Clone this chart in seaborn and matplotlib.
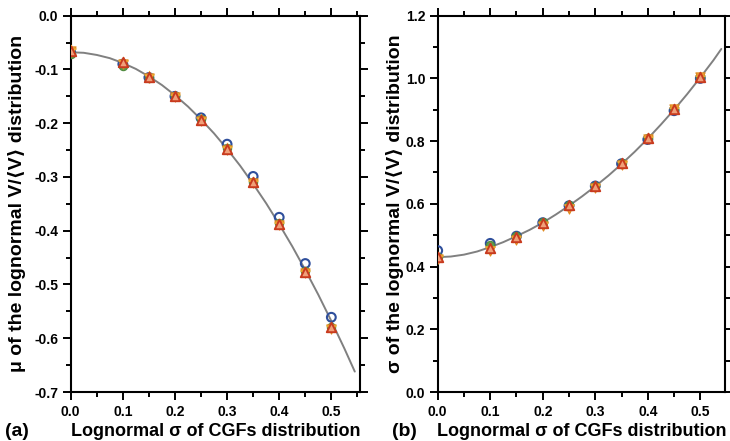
import numpy as np
import pandas as pd
import matplotlib
matplotlib.use("Agg")
import matplotlib.pyplot as plt
from matplotlib.ticker import MultipleLocator, FormatStrFormatter
import seaborn as sns

# ---- data ----
sigma_cgf = [0.0, 0.1, 0.15, 0.2, 0.25, 0.3, 0.35, 0.4, 0.45, 0.5]

# panel (a): mu of lognormal V/<V>
mu_blue = [-0.068, -0.090, -0.115, -0.150, -0.190, -0.239, -0.299, -0.375, -0.461, -0.561]
mu_green = [-0.072, -0.093, -0.116, -0.150, -0.193, -0.246, -0.309, -0.386, -0.475, -0.579]
mu_orange = [-0.066, -0.089, -0.116, -0.151, -0.195, -0.249, -0.312, -0.389, -0.478, -0.582]
mu_yellow = [-0.064, -0.087, -0.113, -0.149, -0.193, -0.247, -0.310, -0.387, -0.476, -0.580]
mu_red = [-0.065, -0.087, -0.114, -0.149, -0.194, -0.248, -0.310, -0.387, -0.476, -0.580]
mu_fit_x = [0.0, 0.025, 0.05, 0.075, 0.1, 0.125, 0.15, 0.175, 0.2, 0.225, 0.25, 0.275,
            0.3, 0.325, 0.35, 0.375, 0.4, 0.425, 0.45, 0.475, 0.5, 0.525, 0.545]
mu_fit_y = [-0.068, -0.069, -0.073, -0.079, -0.088, -0.099, -0.113, -0.129, -0.148, -0.169,
            -0.193, -0.219, -0.248, -0.279, -0.313, -0.349, -0.388, -0.429, -0.473, -0.519,
            -0.568, -0.619, -0.662]

# panel (b): sigma of lognormal V/<V>
sd_blue = [0.451, 0.474, 0.497, 0.540, 0.594, 0.657, 0.728, 0.805, 0.897, 1.000]
sd_green = [0.432, 0.468, 0.497, 0.541, 0.596, 0.658, 0.729, 0.810, 0.902, 1.003]
sd_orange = [0.425, 0.450, 0.485, 0.530, 0.585, 0.650, 0.724, 0.808, 0.902, 1.003]
sd_yellow = [0.430, 0.458, 0.492, 0.537, 0.592, 0.656, 0.729, 0.811, 0.904, 1.004]
sd_red = [0.430, 0.460, 0.495, 0.540, 0.595, 0.658, 0.730, 0.811, 0.903, 1.003]
sd_fit_x = [0.0, 0.025, 0.05, 0.075, 0.1, 0.125, 0.15, 0.175, 0.2, 0.225, 0.25, 0.275,
            0.3, 0.325, 0.35, 0.375, 0.4, 0.425, 0.45, 0.475, 0.5, 0.525, 0.54]
sd_fit_y = [0.430, 0.432, 0.438, 0.448, 0.462, 0.478, 0.497, 0.517, 0.540, 0.566, 0.594,
            0.624, 0.656, 0.690, 0.727, 0.766, 0.808, 0.853, 0.900, 0.950, 1.003, 1.058, 1.094]

x_label = "Lognormal \u03c3 of CGFs distribution"
y_label_a = "\u03bc of the lognormal V/\u27e8V\u27e9 distribution"
y_label_b = "\u03c3 of the lognormal V/\u27e8V\u27e9 distribution"

sns.set_style("ticks")
plt.rcParams["font.family"] = ["Liberation Sans", "DejaVu Sans"]
plt.rcParams["font.weight"] = "bold"
for k in ["text.color", "axes.labelcolor", "xtick.color", "ytick.color", "axes.edgecolor"]:
    plt.rcParams[k] = "black"

fig = plt.figure(figsize=(7.30, 4.41), dpi=100)
W, H = 730, 441
axA = fig.add_axes([70.7 / W, 1 - 392 / H, (360 - 70.7) / W, (392 - 15.7) / H])
axB = fig.add_axes([437.7 / W, 1 - 392 / H, (725 - 437.7) / W, (392 - 15.7) / H])

styles = [
    dict(marker="o", facecolor="none", edgecolor="#2f4f9c", s=40, linewidth=1.5),
    dict(marker="o", facecolor="#5f9e4c", edgecolor="#4f8a3e", s=36, linewidth=0.8),
    dict(marker="v", facecolor="#f0a23a", edgecolor="#e08a20", s=44, linewidth=0.8),
    dict(marker="*", facecolor="#f6c24a", edgecolor="#e8a830", s=60, linewidth=0.6),
    dict(marker="^", facecolor="#f0a07a", edgecolor="#c83a1e", s=46, linewidth=1.4),
]

def draw(ax, series, fx, fy):
    sns.lineplot(x=fx, y=fy, ax=ax, color="#808080", linewidth=1.4, zorder=1)
    for ys, st in zip(series, styles):
        df = pd.DataFrame({"x": sigma_cgf, "y": ys})
        sns.scatterplot(data=df, x="x", y="y", ax=ax, zorder=3, **st)

draw(axA, [mu_blue, mu_green, mu_orange, mu_yellow, mu_red], mu_fit_x, mu_fit_y)
draw(axB, [sd_blue, sd_green, sd_orange, sd_yellow, sd_red], sd_fit_x, sd_fit_y)

axA.set_xlim(0, 0.555)
axA.set_ylim(-0.7, 0.0)
axA.yaxis.set_major_locator(MultipleLocator(0.1))
axA.yaxis.set_minor_locator(MultipleLocator(0.05))
axB.set_xlim(0, 0.547)
axB.set_ylim(0, 1.2)
axB.yaxis.set_major_locator(MultipleLocator(0.2))
axB.yaxis.set_minor_locator(MultipleLocator(0.1))

for ax, yl, lp in [(axA, y_label_a, 6), (axB, y_label_b, 1)]:
    ax.xaxis.set_major_locator(MultipleLocator(0.1))
    ax.xaxis.set_minor_locator(MultipleLocator(0.05))
    ax.xaxis.set_major_formatter(FormatStrFormatter("%.1f"))
    ax.yaxis.set_major_formatter(FormatStrFormatter("%.1f"))
    for sp in ax.spines.values():
        sp.set_visible(True)
        sp.set_linewidth(1.5)
        sp.set_color("black")
    ax.tick_params(which="both", direction="out", top=True, right=True,
                   labeltop=False, labelright=False, width=1.4, color="black")
    ax.tick_params(which="major", length=6, labelsize=10, pad=3, labelcolor="black")
    ax.tick_params(which="minor", length=3.5)
    for lab in ax.get_xticklabels() + ax.get_yticklabels():
        lab.set_fontweight("bold")
    ax.set_xlabel(x_label, fontsize=13, fontweight="bold", labelpad=3, color="black")
    ax.set_ylabel(yl, fontsize=14, fontweight="bold", labelpad=lp, color="black")

fig.text(5 / W, 1 - 432 / H, "(a)", fontsize=14, fontweight="bold", va="center", ha="left")
fig.text(392 / W, 1 - 432 / H, "(b)", fontsize=14, fontweight="bold", va="center", ha="left")

fig.savefig("out.png", dpi=100)
